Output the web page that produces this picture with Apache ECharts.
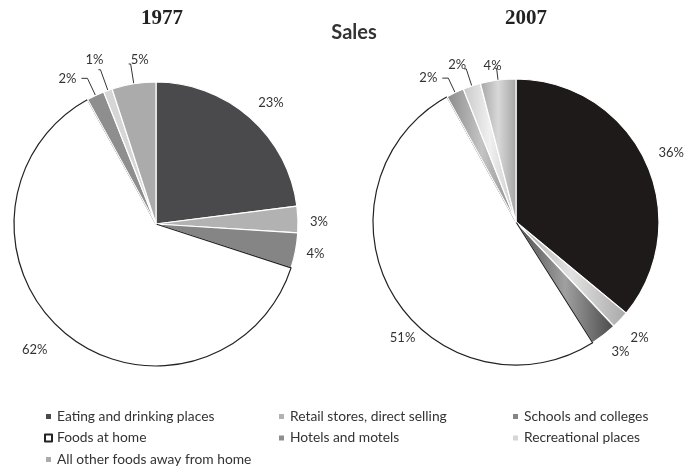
<!DOCTYPE html>
<html><head><meta charset="utf-8">
<script src="https://cdn.jsdelivr.net/npm/echarts@6/dist/echarts.min.js"></script>
<style>html,body{margin:0;padding:0;background:#fff}#c{width:692px;height:475px}</style>
</head><body><div id="c"></div>
<script>
const categories = ['Eating and drinking places','Retail stores, direct selling','Schools and colleges','Foods at home','Hotels and motels','Recreational places','All other foods away from home'];
const values1977 = [23, 3, 4, 62, 2, 1, 5];
const values2007 = [36, 2, 3, 51, 2, 2, 4];
const colors1977 = ['#4a4a4c','#b2b2b2','#858585','#ffffff','#8e8e8e','#d6d6d6','#ababab'];
// 2007 slices have a shiny look: [dark, light] gradient stops
const colors2007 = [['#1e1a1a','#1e1a1a'],['#a8a8a8','#e2e2e2'],['#4a4a4a','#a0a0a0'],['#ffffff','#ffffff'],['#8a8a8a','#c4c4c4'],['#c8c8c8','#f0f0f0'],['#a4a4a4','#d8d8d8']];
const titles = ['1977','2007'];
const mainTitle = 'Sales';

const labelFont = {fontFamily:'Lato', fontSize:13, color:'#333'};
const lineCfg1977 = [
  {show:false,len:8,len2:8},{show:false,len:6,len2:6},{show:false,len:6,len2:6},
  {show:false,len:8,len2:8},{show:true,len:19,len2:6},{show:true,len:22,len2:2},{show:true,len:20,len2:2}
];
const lineCfg2007 = [
  {show:false,len:10,len2:10},{show:false,len:6,len2:4},{show:false,len:8,len2:4},
  {show:false,len:10,len2:8},{show:true,len:16,len2:6},{show:true,len:18,len2:2},{show:true,len:12,len2:2}
];
// label nudges (relative to library-placed positions)
const nudge1977 = [[-10,-9],[-5,2],[-6,2],[0,10],[0,0],[10,-10],[25,-4]];
const nudge2007 = [[-11,-4],[-3,14],[-6,10],[44,38],[0,0],[7,-4],[12,-2]];

function fill(c){
  if (typeof c === 'string') return c;
  if (c[0] === c[1]) return c[0];
  return new echarts.graphic.LinearGradient(0,0,1,0,[{offset:0,color:c[0]},{offset:0.5,color:c[1]},{offset:1,color:c[0]}]);
}
function buildData(vals, cols, cfg){
  return categories.map((n,i)=>({
    name:n, value:vals[i],
    itemStyle:{color:fill(cols[i]), borderColor: i===3 ? '#222' : '#fff', borderWidth: 1.2},
    labelLine:{show:cfg[i].show, length:cfg[i].len, length2:cfg[i].len2, lineStyle:{color:'#333', width:1}}
  }));
}
function layoutFn(nudges){
  return function(p){ const d = nudges[p.dataIndex]; return {dx:d[0], dy:d[1]}; };
}

const chart = echarts.init(document.getElementById('c'), null, {renderer:'canvas'});
const legendText = {fontFamily:'Lato', fontSize:13.8, color:'#333'};
function legend(left, data){
  return {orient:'vertical', left:left, top:404.5, itemWidth:7, itemHeight:7, itemGap:7.5, icon:'rect',
    textStyle:legendText, data:data, selectedMode:false};
}
chart.setOption({
  animation:false,
  title:[
    {text:titles[0], left:157, top:3, textAlign:'center', textStyle:{fontFamily:'Liberation Serif', fontSize:21, fontWeight:'bold', color:'#222'}},
    {text:titles[1], left:521, top:3, textAlign:'center', textStyle:{fontFamily:'Liberation Serif', fontSize:21, fontWeight:'bold', color:'#222'}},
    {text:mainTitle, left:349, top:18, textAlign:'center', textStyle:{fontFamily:'Lato', fontSize:20, fontWeight:'bold', color:'#333'}}
  ],
  legend:[
    legend(39, [categories[0], categories[3], categories[6]]),
    legend(272, [categories[1], categories[4]]),
    legend(506, [categories[2], categories[5]])
  ],
  series:[
    {type:'pie', center:[156,224], radius:142, startAngle:90, clockwise:true,
     avoidLabelOverlap:false,
     label:{show:true, position:'outside', formatter:'{c}%', ...labelFont},
     labelLayout:layoutFn(nudge1977),
     data:buildData(values1977, colors1977, lineCfg1977)},
    {type:'pie', center:[516,222], radius:143, startAngle:90, clockwise:true,
     avoidLabelOverlap:false,
     label:{show:true, position:'outside', formatter:'{c}%', ...labelFont},
     labelLayout:layoutFn(nudge2007),
     data:buildData(values2007, colors2007, lineCfg2007)}
  ]
});
</script></body></html>
